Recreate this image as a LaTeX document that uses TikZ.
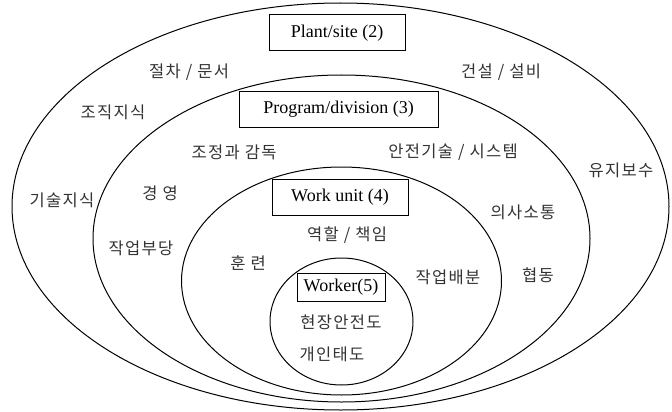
\documentclass[tikz,border=0pt]{standalone}
\usepackage{fontspec}
\setmainfont{Liberation Serif}
\newfontfamily\kr{Noto Sans CJK KR}[LetterSpace=8]
\begin{document}
\begin{tikzpicture}[x=1pt,y=-1pt,
  ring/.style={line width=1pt},
  lbl/.style={draw,line width=1pt,fill=white,font=\fontsize{18}{20}\selectfont,inner sep=0pt},
  kt/.style={font=\kr\fontsize{16.5}{18}\selectfont,text=black!80,inner sep=0pt}]
\useasboundingbox (0,0) rectangle (672,412);
% rings
\draw[ring] (340.5,206.5) ellipse (328.5 and 203.5);
\draw[ring] (341.5,238.5) ellipse (248.5 and 163.5);
\draw[ring] (341.5,281) ellipse (160 and 114);
\draw[ring] (341.5,321.5) ellipse (71.5 and 63.5);
% boxes
\node[lbl,minimum width=136pt,minimum height=36pt] (plant) at (337,33) {Plant/site (2)};
\node[lbl,minimum width=199pt,minimum height=36pt] (prog) at (338.5,109) {Program/division (3)};
\node[lbl,minimum width=136pt,minimum height=36pt] (unit) at (340,197) {Work unit (4)};
\node[lbl,minimum width=88pt,minimum height=28pt] (worker) at (341,287) {Worker(5)};
% Korean labels
\node[kt] (t1) at (189,72) {절차 / 문서};
\node[kt] (t2) at (501,72) {건설 / 설비};
\node[kt] (t3) at (113,112) {조직지식};
\node[kt] (t4) at (234,152) {조정과 감독};
\node[kt] (t5) at (453,152) {안전기술 / 시스템};
\node[kt] (t6) at (621,170) {유지보수};
\node[kt] (t7) at (62,200) {기술지식};
\node[kt] (t8) at (160,193) {경 영};
\node[kt] (t9) at (523,212) {의사소통};
\node[kt] (t10) at (141,248) {작업부당};
\node[kt] (t11) at (347,235) {역할 / 책임};
\node[kt] (t12) at (248,263) {훈 련};
\node[kt] (t13) at (448,277) {작업배분};
\node[kt] (t14) at (538,275) {협동};
\node[kt] (t15) at (341,322) {현장안전도};
\node[kt] (t16) at (332,354) {개인태도};
\end{tikzpicture}
\end{document}
